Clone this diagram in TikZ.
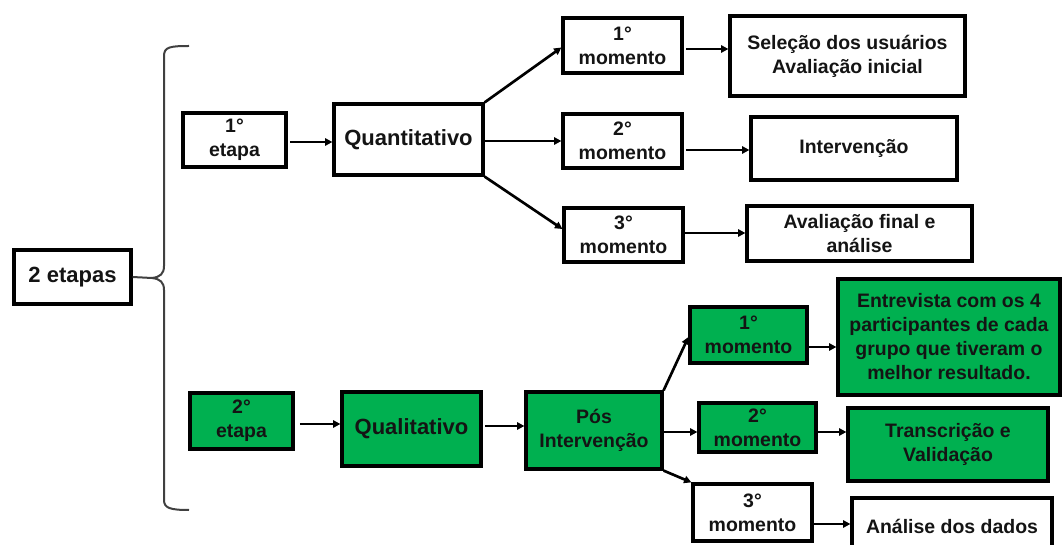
\documentclass[tikz,border=0pt]{standalone}
\usepackage{fontspec}
\setmainfont{Liberation Sans}
\usetikzlibrary{arrows.meta,calc}
\definecolor{grn}{RGB}{0,176,80}
\definecolor{txt}{RGB}{20,20,20}
\begin{document}
\begin{tikzpicture}[x=0.75pt,y=-0.75pt,
 box/.style={draw=black,line width=2.4pt,align=center,inner sep=0pt,text=txt,font=\bfseries\fontsize{14.6pt}{18pt}\selectfont},
 big/.style={font=\bfseries\fontsize{16.5pt}{20pt}\selectfont},
 gbox/.style={box,fill=grn},
 arr/.style={draw=black,line width=2pt,-{Triangle[length=5.5pt,width=5.5pt]}},
 bracestyle/.style={draw=black!75,line width=1.5pt}]
\clip (0,0) rectangle (1064,545);
\fill[white] (0,0) rectangle (1064,545);
% nodes
\node[box,big,minimum width=87.75pt,minimum height=40.5pt] (e2) at (72.5,277) {2 etapas};
\node[box,minimum width=77.25pt,minimum height=40.5pt] (et1) at (234.5,140) {1°\\etapa};
\node[gbox,minimum width=77.25pt,minimum height=42pt] (et2) at (241.5,421) {2°\\etapa};
\node[box,big,minimum width=111.75pt,minimum height=53.25pt] (quant) at (408.5,139.5) {Quantitativo};
\node[box,minimum width=89.25pt,minimum height=41.25pt] (m1) at (622.5,45.5) {1°\\momento};
\node[box,minimum width=89.25pt,minimum height=40.5pt] (m2) at (622.5,141) {2°\\momento};
\node[box,minimum width=89.25pt,minimum height=40.5pt] (m3) at (623.5,235) {3°\\momento};
\node[box,minimum width=176.25pt,minimum height=60pt] (sel) at (847.5,56) {Seleção dos usuários\\Avaliação inicial};
\node[box,minimum width=154.5pt,minimum height=47.25pt] (interv) at (854,148.5) {Intervenção};
\node[box,minimum width=168.75pt,minimum height=41.25pt] (aval) at (859.5,233.5) {Avaliação final e\\análise};
\node[gbox,big,minimum width=104.25pt,minimum height=55.5pt] (qual) at (411.5,429) {Qualitativo};
\node[gbox,minimum width=102pt,minimum height=57.75pt] (pos) at (594,430.5) {Pós\\Intervenção};
\node[gbox,minimum width=87.75pt,minimum height=42pt] (gm1) at (748.5,335) {1°\\momento};
\node[gbox,minimum width=87.75pt,minimum height=36.75pt] (gm2) at (757.5,427.5) {2°\\momento};
\node[box,minimum width=89.25pt,minimum height=42.75pt] (gm3) at (752.5,512.5) {3°\\momento};
\node[gbox,minimum width=166.5pt,minimum height=87pt] (entr) at (949,337) {Entrevista com os 4\\participantes de cada\\grupo que tiveram o\\melhor resultado.};
\node[gbox,minimum width=150pt,minimum height=54.75pt] (trans) at (948,444.5) {Transcrição e\\Validação};
\node[box,minimum width=150pt,minimum height=42pt] (anal) at (952,526) {Análise dos dados};
% brace
\coordinate (bt) at (152,278);
\draw[bracestyle] (189,46) .. controls (170,46) and (164,47) .. (164,56) -- (164,266)
  .. controls (164,274) and (160,277) .. (bt) .. controls (160,279) and (164,282) .. (164,290)
  -- (164,500) .. controls (164,508) and (170,510) .. (189,510);
\draw[bracestyle] (e2.east) -- (bt);
% arrows
\draw[arr,shorten <=2pt] (et1.east |- 0,142) -- (quant.west |- 0,142);
\draw[arr] (quant.north east) -- ($(m1.west)+(0,2)$);
\draw[arr] (quant.east |- 0,141) -- (m2.west);
\draw[arr] (quant.south east) -- ($(m3.west)+(0,-6)$);
\draw[arr,shorten <=2pt] (m1.east |- 0,49) -- (sel.west |- 0,49);
\draw[arr,shorten <=2pt] (m2.east |- 0,150) -- (interv.west |- 0,150);
\draw[arr] (m3.east |- 0,233) -- (aval.west |- 0,233);
\draw[arr,shorten <=4pt] (et2.east |- 0,424) -- (qual.west |- 0,424);
\draw[arr,shorten <=2pt] (qual.east |- 0,426) -- (pos.west |- 0,426);
\draw[arr] (pos.north east) -- ($(gm1.west)+(0,2)$);
\draw[arr] (pos.east |- 0,432) -- (gm2.west |- 0,432);
\draw[arr] (pos.south east) -- (gm3.north west);
\draw[arr] (gm1.east |- 0,347) -- (entr.west |- 0,347);
\draw[arr] (gm2.east |- 0,432) -- (trans.west |- 0,432);
\draw[arr] (gm3.east |- 0,524) -- (anal.west |- 0,524);
\end{tikzpicture}
\end{document}
